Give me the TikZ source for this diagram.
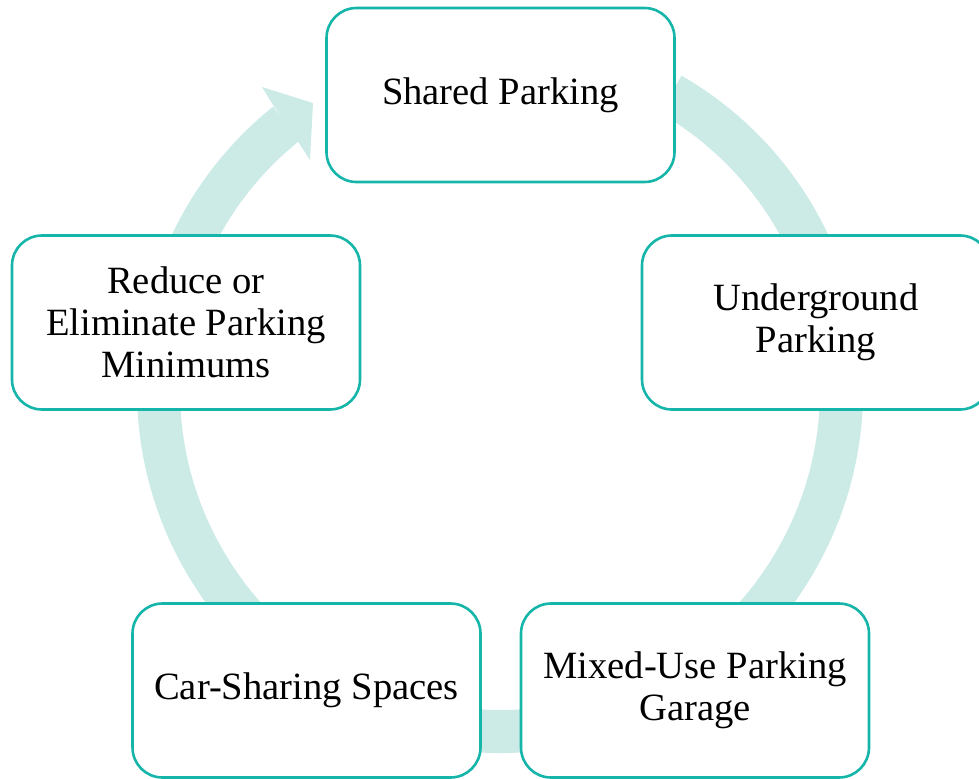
\documentclass[tikz,border=0pt]{standalone}
\usepackage{fontspec}
\setmainfont{Liberation Serif}
\definecolor{ringteal}{RGB}{204,235,230}
\definecolor{boxteal}{RGB}{22,181,169}

\begin{document}
\begin{tikzpicture}[
    x=0.5pt, y=0.5pt,
    every node/.style={draw=boxteal, line width=1.3pt, fill=white,
        rounded corners=15pt, minimum width=174pt, minimum height=87pt,
        align=center, font=\fontsize{19.3}{21}\selectfont},
    ring/.style={fill=ringteal, draw=none}]

\useasboundingbox (0,0) rectangle (979,778);

% cycle arrow behind the boxes
\begin{scope}[shift={(500,388)}]
  \fill[ring] (60:363) arc[start angle=60, end angle=-231.3, radius=363]
      -- (-231.3:320) arc[start angle=-231.3, end angle=60, radius=320] -- cycle;
\end{scope}
\fill[ring] (273,673) -- (262,691) -- (313,675) -- (310,618) -- (297,638) -- cycle;

\node (shared) at (500.5,683) {Shared Parking};
\node (under)  at (816,455.5) {Underground\\Parking};
\node (mixed)  at (695,87.5)  {Mixed-Use Parking\\Garage};
\node (carshare) at (306.5,87.5) {Car-Sharing Spaces};
\node (reduce) at (186,455.5) {Reduce or\\Eliminate Parking\\Minimums};

\end{tikzpicture}
\end{document}
